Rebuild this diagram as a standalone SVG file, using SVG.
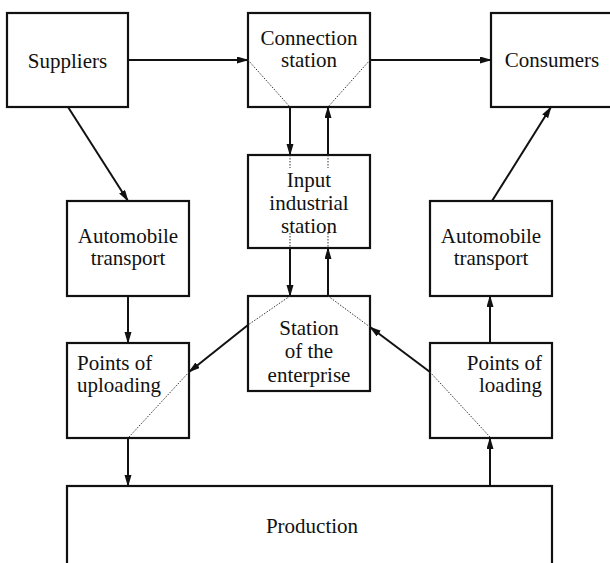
<svg xmlns="http://www.w3.org/2000/svg" width="610" height="563" viewBox="0 0 610 563">
<style>
.box{fill:#fff;stroke:#111;stroke-width:2.2}
.t{font-family:'Liberation Serif',Tinos,'Times New Roman','DejaVu Serif',serif;font-size:21px;fill:#111;text-anchor:middle}
.tl{text-anchor:start}
.tr{text-anchor:end}
.a{stroke:#111;stroke-width:2;fill:none;marker-end:url(#ah)}
.d{stroke:#333;stroke-width:1;stroke-dasharray:1.5 1.5;fill:none}
</style>
<defs>
<marker id="ah" markerUnits="userSpaceOnUse" markerWidth="12" markerHeight="8" refX="11" refY="3.5" orient="auto">
<path d="M0,0 L12,3.5 L0,7 Z" fill="#111"/>
</marker>
</defs>
<rect width="610" height="563" fill="#fff"/>
<g id="suppliers"><rect class="box" x="7" y="13" width="121" height="94"/><text class="t" x="67.5" y="68" font-family="Liberation Serif, serif">Suppliers</text></g>
<g id="connection-station"><rect class="box" x="248" y="13" width="122" height="94"/><text class="t" x="309" y="45">Connection</text><text class="t" x="309" y="67">station</text></g>
<g id="consumers"><rect class="box" x="491" y="13" width="125" height="94"/><text class="t" x="552" y="67">Consumers</text></g>
<g id="input-industrial-station"><rect class="box" x="248" y="155" width="122" height="93"/><text class="t" x="309" y="187">Input</text><text class="t" x="309" y="210">industrial</text><text class="t" x="309" y="233">station</text></g>
<g id="automobile-transport-left"><rect class="box" x="67" y="201" width="122" height="95"/><text class="t" x="128" y="243">Automobile</text><text class="t" x="128" y="265">transport</text></g>
<g id="automobile-transport-right"><rect class="box" x="430" y="201" width="122" height="95"/><text class="t" x="491" y="243">Automobile</text><text class="t" x="491" y="265">transport</text></g>
<g id="station-of-the-enterprise"><rect class="box" x="248" y="296" width="122" height="95"/><text class="t" x="309" y="335">Station</text><text class="t" x="309" y="358">of the</text><text class="t" x="309" y="382">enterprise</text></g>
<g id="points-of-uploading"><rect class="box" x="67" y="343" width="122" height="95"/><text class="t tl" x="77" y="370">Points of</text><text class="t tl" x="77" y="392">uploading</text></g>
<g id="points-of-loading"><rect class="box" x="430" y="343" width="122" height="95"/><text class="t tr" x="542" y="370">Points of</text><text class="t tr" x="542" y="392">loading</text></g>
<g id="production"><rect class="box" x="67" y="486" width="485" height="100"/><text class="t" x="312" y="533">Production</text></g>
<g id="connectors">
<line class="a" x1="128" y1="60" x2="248" y2="60"/>
<line class="a" x1="370" y1="60" x2="491" y2="60"/>
<line class="a" x1="68" y1="107" x2="128" y2="201"/>
<line class="a" x1="492" y1="201" x2="551" y2="107"/>
<line class="a" x1="290" y1="107" x2="290" y2="155"/>
<line class="a" x1="328" y1="155" x2="328" y2="107"/>
<line class="a" x1="290" y1="248" x2="290" y2="296"/>
<line class="a" x1="328" y1="296" x2="328" y2="248"/>
<line class="a" x1="128" y1="296" x2="128" y2="343"/>
<line class="a" x1="128" y1="438" x2="128" y2="486"/>
<line class="a" x1="490" y1="343" x2="490" y2="296"/>
<line class="a" x1="490" y1="486" x2="490" y2="438"/>
<line class="a" x1="248" y1="325" x2="189" y2="372"/>
<line class="a" x1="430" y1="372" x2="370" y2="327"/>
<path class="d" d="M248,60 L290,107 M370,60 L328,107"/>
<path class="d" d="M290,155 V168 M328,155 V168 M290,233 V248 M328,233 V248"/>
<path class="d" d="M290,296 L248,325 M189,372 L129,437"/>
<path class="d" d="M328,296 L370,327 M430,372 L490,437"/>
</g>
</svg>
